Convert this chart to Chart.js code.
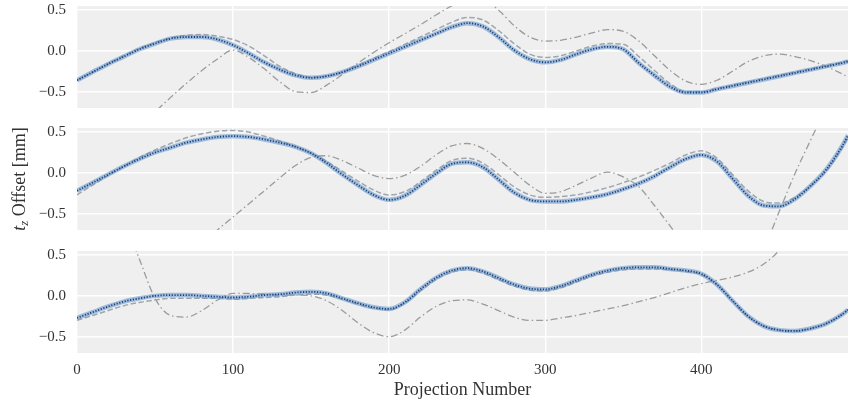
<!DOCTYPE html>
<html>
<head>
<meta charset="utf-8">
<script src="https://cdn.jsdelivr.net/npm/chart.js@4.4.0/dist/chart.umd.min.js"></script>
<style>
  html, body { margin: 0; padding: 0; background: #fff; overflow: hidden; }
  #wrap { position: relative; width: 848px; height: 403px; }
  canvas { position: absolute; left: 0; }
</style>
</head>
<body>
<div id="wrap">
  <canvas id="p1" width="848" height="152" style="top:-19px"></canvas>
  <canvas id="p2" width="848" height="152" style="top:103px"></canvas>
  <canvas id="p3" width="848" height="177" style="top:226px"></canvas>
</div>
<script>
// ---- data -------------------------------------------------------
const projection = [0,10,20,30,40,50,60,70,80,90,100,110,120,130,140,150,160,170,180,190,
  200,210,220,230,240,250,260,270,280,290,300,310,320,330,340,350,360,370,380,390,
  400,410,420,430,440,450,460,470,480,490,494];

const xTicks = [0, 100, 200, 300, 400];
const yTicks = [-0.5, 0, 0.5];

// panel 1
const p1Main = [-0.36,-0.26,-0.16,-0.07,0.02,0.09,0.15,0.17,0.17,0.14,
  0.07,-0.03,-0.14,-0.23,-0.30,-0.33,-0.31,-0.26,-0.19,-0.11,
  -0.03,0.05,0.13,0.21,0.29,0.34,0.30,0.17,0.01,-0.10,
  -0.14,-0.11,-0.04,0.02,0.05,0.02,-0.15,-0.30,-0.44,-0.51,
  -0.51,-0.47,-0.43,-0.39,-0.35,-0.31,-0.27,-0.23,-0.19,-0.15,-0.13];
const p1Dashed = [-0.36,-0.26,-0.16,-0.06,0.03,0.10,0.16,0.19,0.20,0.18,
  0.14,0.06,-0.06,-0.19,-0.28,-0.32,-0.31,-0.26,-0.18,-0.09,
  -0.01,0.08,0.17,0.26,0.35,0.41,0.38,0.25,0.09,-0.04,
  -0.08,-0.06,0.00,0.06,0.09,0.08,-0.07,-0.24,-0.40,-0.50,
  -0.50,-0.46,-0.42,-0.38,-0.34,-0.30,-0.26,-0.22,-0.18,-0.14,-0.12];
const p1DashDot = [-1.75,-1.55,-1.35,-1.15,-0.95,-0.75,-0.57,-0.40,-0.24,-0.10,
  0.01,-0.08,-0.22,-0.38,-0.50,-0.51,-0.42,-0.29,-0.15,-0.02,
  0.10,0.21,0.32,0.44,0.55,0.64,0.63,0.50,0.31,0.17,
  0.12,0.13,0.17,0.22,0.26,0.24,0.12,-0.06,-0.24,-0.37,
  -0.41,-0.36,-0.25,-0.13,-0.06,-0.04,-0.07,-0.12,-0.19,-0.28,-0.32];

// panel 2
const p2Main = [-0.22,-0.12,-0.02,0.08,0.17,0.25,0.31,0.37,0.41,0.44,
  0.45,0.44,0.41,0.37,0.32,0.24,0.12,-0.02,-0.15,-0.27,
  -0.33,-0.28,-0.15,-0.01,0.11,0.13,0.07,-0.08,-0.24,-0.33,
  -0.35,-0.35,-0.33,-0.30,-0.26,-0.20,-0.13,-0.04,0.07,0.17,
  0.22,0.14,-0.07,-0.28,-0.40,-0.41,-0.32,-0.16,0.04,0.32,0.46];
const p2Dashed = [-0.27,-0.15,-0.03,0.08,0.19,0.28,0.36,0.43,0.48,0.51,
  0.52,0.50,0.45,0.39,0.32,0.24,0.14,0.02,-0.10,-0.21,
  -0.27,-0.23,-0.11,0.03,0.15,0.18,0.12,-0.02,-0.17,-0.27,
  -0.30,-0.29,-0.27,-0.23,-0.18,-0.12,-0.05,0.03,0.12,0.22,
  0.27,0.18,-0.02,-0.22,-0.35,-0.37,-0.30,-0.16,0.02,0.30,0.43];
const p2DashDot = [-2.80,-2.55,-2.30,-2.05,-1.80,-1.55,-1.30,-1.08,-0.88,-0.70,
  -0.54,-0.38,-0.22,-0.06,0.09,0.19,0.21,0.15,0.06,-0.03,
  -0.07,-0.03,0.08,0.22,0.33,0.36,0.30,0.17,0.01,-0.15,
  -0.25,-0.23,-0.15,-0.06,0.01,-0.05,-0.17,-0.40,-0.65,-0.90,
  -1.08,-1.20,-1.22,-1.12,-0.92,-0.47,-0.01,0.40,0.80,1.20,1.35];

// panel 3
const p3Main = [-0.27,-0.20,-0.13,-0.07,-0.03,0.00,0.01,0.01,0.00,-0.01,
  -0.02,-0.01,0.01,0.02,0.04,0.05,0.03,-0.03,-0.09,-0.14,
  -0.16,-0.08,0.08,0.22,0.31,0.34,0.30,0.22,0.14,0.09,
  0.08,0.12,0.19,0.26,0.31,0.34,0.35,0.35,0.33,0.31,
  0.27,0.14,-0.06,-0.25,-0.37,-0.42,-0.43,-0.40,-0.34,-0.23,-0.17];
const p3Dashed = [-0.30,-0.24,-0.18,-0.12,-0.08,-0.05,-0.03,-0.03,-0.03,-0.03,
  -0.04,-0.03,-0.02,-0.01,0.01,0.02,0.01,-0.04,-0.10,-0.15,
  -0.17,-0.09,0.06,0.20,0.29,0.32,0.28,0.20,0.12,0.07,
  0.06,0.10,0.17,0.24,0.29,0.32,0.33,0.33,0.32,0.30,
  0.26,0.14,-0.06,-0.25,-0.37,-0.42,-0.43,-0.40,-0.34,-0.23,-0.17];
const p3DashDot = [2.45,1.95,1.45,0.95,0.45,-0.03,-0.24,-0.26,-0.18,-0.05,
  0.03,0.03,0.02,0.01,0.01,0.00,-0.06,-0.18,-0.33,-0.45,
  -0.50,-0.42,-0.26,-0.13,-0.06,-0.05,-0.10,-0.18,-0.26,-0.30,
  -0.30,-0.27,-0.24,-0.20,-0.16,-0.12,-0.07,-0.02,0.04,0.10,
  0.15,0.19,0.23,0.29,0.39,0.56,0.85,1.20,1.60,2.10,2.30];

// ---- look -------------------------------------------------------
const SERIF = "'Liberation Serif', 'DejaVu Serif', serif";
const TEXT = '#333333';
const PLOT_BG = '#efefef';

const plotBg = {
  id: 'plotBg',
  beforeDraw(chart) {
    const a = chart.chartArea, ctx = chart.ctx;
    ctx.save();
    ctx.fillStyle = PLOT_BG;
    ctx.fillRect(a.left, a.top, a.right - a.left, a.bottom - a.top);
    ctx.restore();
  }
};

// rotated y label with italic t and subscript z
const yLabel = {
  id: 'yLabel',
  afterDraw(chart) {
    const ctx = chart.ctx, a = chart.chartArea;
    ctx.save();
    ctx.translate(19, (a.top + a.bottom) / 2);
    ctx.rotate(-Math.PI / 2);
    ctx.fillStyle = TEXT;
    ctx.textBaseline = 'alphabetic';
    const rest = ' Offset [mm]';
    ctx.font = 'italic 18px ' + SERIF; const wt = ctx.measureText('t').width;
    ctx.font = 'italic 13px ' + SERIF; const wz = ctx.measureText('z').width;
    ctx.font = '18px ' + SERIF; const wr = ctx.measureText(rest).width;
    let x = -(wt + wz + wr) / 2;
    const base = 6;
    ctx.font = 'italic 18px ' + SERIF; ctx.fillText('t', x, base); x += wt;
    ctx.font = 'italic 13px ' + SERIF; ctx.fillText('z', x, base + 3); x += wz;
    ctx.font = '18px ' + SERIF; ctx.fillText(rest, x, base);
    ctx.restore();
  }
};

function pts(ys) { return projection.map((x, i) => ({ x: x, y: ys[i] })); }

function panel(id, main, dashed, dashDot, bottom, extra) {
  const datasets = [
    { data: pts(main), borderColor: '#1c3f73', borderWidth: 1.8, borderDash: [1.2, 1.6], order: 1 },
    { data: pts(main), borderColor: 'rgba(95,145,205,0.55)', borderWidth: 4.5, order: 2 },
    { data: pts(dashed), borderColor: '#9ea6ae', borderWidth: 1.5, borderDash: [5.5, 2.5], order: 3 },
    { data: pts(dashDot), borderColor: '#9b9b9b', borderWidth: 1.3, borderDash: [7, 3, 1.5, 3], order: 4 },
  ].map(d => Object.assign(d, { pointRadius: 0, cubicInterpolationMode: 'monotone', fill: false, clip: 0 }));

  return new Chart(document.getElementById(id), {
    type: 'line',
    data: { datasets },
    options: {
      responsive: false, animation: false, events: [],
      layout: { padding: { top: 25, bottom: bottom ? 0 : 25, left: 0, right: 0 } },
      plugins: { legend: { display: false }, tooltip: { enabled: false } },
      scales: {
        x: {
          type: 'linear', min: 0, max: 494,
          afterBuildTicks: s => { s.ticks = xTicks.map(v => ({ value: v })); },
          afterFit: s => { s.height = bottom ? 50 : 0; },
          grid: { color: '#ffffff', lineWidth: 1.4, drawTicks: false },
          border: { display: false },
          ticks: { display: bottom, padding: 8, color: TEXT, font: { family: SERIF, size: 15 } },
          title: { display: bottom, text: 'Projection Number', color: TEXT,
                   font: { family: SERIF, size: 18 }, padding: { top: 0, bottom: 2 } }
        },
        y: {
          min: -0.7, max: 0.55,
          afterBuildTicks: s => { s.ticks = yTicks.map(v => ({ value: v })); },
          afterFit: s => { s.width = 77; },
          grid: { color: '#ffffff', lineWidth: 1.4, drawTicks: false },
          border: { display: false },
          ticks: { padding: 11, color: TEXT, font: { family: SERIF, size: 15 },
                   callback: v => v.toFixed(1).replace('-', '\u2212') }
        }
      }
    },
    plugins: [plotBg].concat(extra || [])
  });
}

panel('p1', p1Main, p1Dashed, p1DashDot, false);
panel('p2', p2Main, p2Dashed, p2DashDot, false, [yLabel]);
panel('p3', p3Main, p3Dashed, p3DashDot, true);
</script>
</body>
</html>
